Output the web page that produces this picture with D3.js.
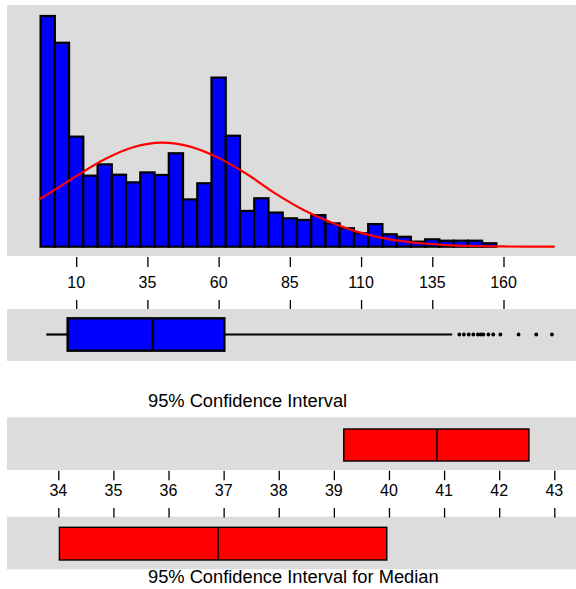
<!DOCTYPE html>
<html><head><meta charset="utf-8">
<script src="https://cdn.jsdelivr.net/npm/d3@7"></script>
<style>
html,body{margin:0;padding:0;background:#fff;}
svg{display:block;font-family:"Liberation Sans",Arial,sans-serif;}
</style></head>
<body>
<svg id="chart" width="576" height="589"></svg>
<script>
// ---- data ----
const binCenters = [0,5,10,15,20,25,30,35,40,45,50,55,60,65,70,75,80,85,90,95,100,105,110,115,120,125,130,135,140,145,150,155];
const binCounts  = [100,88.4,47.7,30.8,35.7,31.2,27.9,32.2,31.1,40.5,20.5,27.5,73.3,48.1,15.5,21.0,14.8,12.3,11.6,13.7,10.1,8.0,5.8,9.8,5.4,4.3,2.2,3.2,2.6,2.6,2.6,1.5];
const binWidth = 5;
const curveX = [-3,0,10,20,30,40,50,60,70,80,90,100,110,120,130,140,150,160,170,178];
const curveY = [20.5,22.7,30.6,37.9,43.1,45.1,43.4,38.5,31.4,23.0,15.8,10.3,6.0,3.2,1.6,0.7,0.3,0.1,0,0];
const histTicks = [10,35,60,85,110,135,160];
const boxStats = [-0.5,7,36.9,62,142];          // low whisker, Q1, median, Q3, high whisker
const outliers = [144.5,146.1,147.8,149.4,151.0,152.0,152.9,154.7,156.4,158.9,165.3,171.5,177];
const ciTicks = [34,35,36,37,38,39,40,41,42,43];
const meanCI = [39.18,40.87,42.54];
const medianCI = [34.02,36.90,39.96];
const titles = ["95% Confidence Interval","95% Confidence Interval for Median"];

const svg = d3.select("#chart");
const W = 576;
const gray = "#dcdcdc";

// ---- scales ----
const x = d3.scaleLinear().domain([10,160]).range([76.2,503.5]);
const y = d3.scaleLinear().domain([0,100]).range([246.7,16]);
const xc = d3.scaleLinear().domain([34,43]).range([58.3,554.3]);

function panel(y0,y1){
  svg.append("rect").attr("x",7).attr("y",y0).attr("width",W-7).attr("height",y1-y0).attr("fill",gray);
}

// ---- histogram panel ----
panel(5,256);
svg.append("g").selectAll("rect").data(binCenters).join("rect")
  .attr("x",(d)=>x(d-binWidth/2))
  .attr("width",(d)=>x(d+binWidth/2)-x(d-binWidth/2))
  .attr("y",(d,i)=>y(binCounts[i]))
  .attr("height",(d,i)=>y(0)-y(binCounts[i]))
  .attr("fill","#0000ff").attr("stroke","#000").attr("stroke-width",2.2);

const line = d3.line().x((d)=>x(d[0])).y((d)=>y(d[1])).curve(d3.curveMonotoneX);
svg.append("path").datum(curveX.map((v,i)=>[v,curveY[i]]))
  .attr("d",line).attr("fill","none").attr("stroke","#ff0000").attr("stroke-width",2.2);

// ---- histogram axis (ticks above and below labels) ----
const axTop = d3.axisBottom(x).tickValues(histTicks).tickSize(10).tickFormat("");
const gTop = svg.append("g").attr("transform","translate(0,257)").call(axTop);
gTop.select(".domain").remove();
const axBot = d3.axisBottom(x).tickValues(histTicks).tickSize(10).tickFormat("");
const gBot = svg.append("g").attr("transform","translate(0,300)").call(axBot);
gBot.select(".domain").remove();
svg.append("g").selectAll("text").data(histTicks).join("text")
  .attr("x",(d)=>x(d)).attr("y",288).attr("text-anchor","middle")
  .attr("font-size",16).attr("fill","#000").text((d)=>d);
svg.selectAll(".tick line").attr("stroke","#000").attr("stroke-width",1.3);

// ---- box plot panel ----
panel(309,361);
const by0 = 318.3, by1 = 350.7, bym = (by0+by1)/2;
svg.append("line").attr("x1",x(boxStats[0])).attr("x2",x(boxStats[1])).attr("y1",bym).attr("y2",bym)
  .attr("stroke","#000").attr("stroke-width",2.2);
svg.append("line").attr("x1",x(boxStats[3])).attr("x2",x(boxStats[4])).attr("y1",bym).attr("y2",bym)
  .attr("stroke","#000").attr("stroke-width",2.2);
svg.append("rect").attr("x",x(boxStats[1])).attr("y",by0)
  .attr("width",x(boxStats[3])-x(boxStats[1])).attr("height",by1-by0)
  .attr("fill","#0000ff").attr("stroke","#000").attr("stroke-width",2.4);
svg.append("line").attr("x1",x(boxStats[2])).attr("x2",x(boxStats[2])).attr("y1",by0).attr("y2",by1)
  .attr("stroke","#000").attr("stroke-width",2.2);
svg.append("g").selectAll("circle").data(outliers).join("circle")
  .attr("cx",(d)=>x(d)).attr("cy",bym).attr("r",1.9).attr("fill","#000");

svg.append("text").attr("x",148).attr("y",406.5).attr("font-size",18.3).attr("fill","#000").text(titles[0]);

// ---- confidence interval panels ----
panel(417.3,470);
panel(516.7,569.3);
function ciBox(vals,y0,y1){
  svg.append("rect").attr("x",xc(vals[0])).attr("y",y0).attr("width",xc(vals[2])-xc(vals[0])).attr("height",y1-y0)
    .attr("fill","#ff0000").attr("stroke","#000").attr("stroke-width",1.4);
  svg.append("line").attr("x1",xc(vals[1])).attr("x2",xc(vals[1])).attr("y1",y0).attr("y2",y1)
    .attr("stroke","#000").attr("stroke-width",1.4);
}
ciBox(meanCI,429,461);
ciBox(medianCI,527.3,560);

const cTop = svg.append("g").attr("transform","translate(0,470.7)").call(d3.axisBottom(xc).tickValues(ciTicks).tickSize(9.5).tickFormat(""));
cTop.select(".domain").remove();
const cBot = svg.append("g").attr("transform","translate(0,508)").call(d3.axisBottom(xc).tickValues(ciTicks).tickSize(9.5).tickFormat(""));
cBot.select(".domain").remove();
svg.append("g").selectAll("text").data(ciTicks).join("text")
  .attr("x",(d)=>xc(d)).attr("y",495.5).attr("text-anchor","middle")
  .attr("font-size",16).attr("fill","#000").text((d)=>d);
svg.selectAll(".tick line").attr("stroke","#000").attr("stroke-width",1.3);

svg.append("text").attr("x",148).attr("y",582.7).attr("font-size",18.3).attr("fill","#000").text(titles[1]);
</script>
</body></html>
